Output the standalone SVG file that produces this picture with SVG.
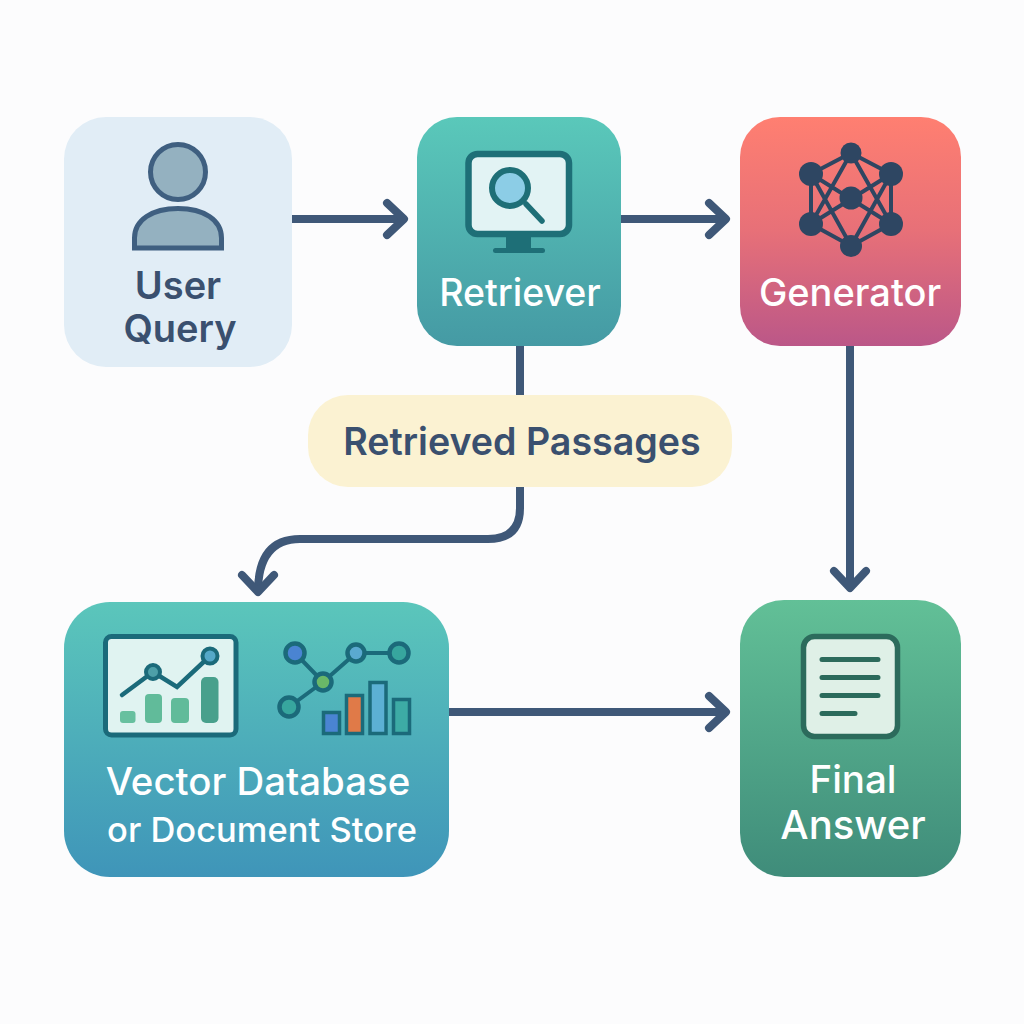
<svg xmlns="http://www.w3.org/2000/svg" width="1024" height="1024" viewBox="0 0 1024 1024">
<defs>
<linearGradient id="gT" x1="0" y1="0" x2="0" y2="1"><stop offset="0" stop-color="#5ac8ba"/><stop offset="1" stop-color="#459aa4"/></linearGradient>
<linearGradient id="gR" x1="0" y1="0" x2="0" y2="1"><stop offset="0" stop-color="#ff7f71"/><stop offset="0.5" stop-color="#e77078"/><stop offset="1" stop-color="#bb5788"/></linearGradient>
<linearGradient id="gV" x1="0" y1="0" x2="0" y2="1"><stop offset="0" stop-color="#5bc6bb"/><stop offset="1" stop-color="#3f95b9"/></linearGradient>
<linearGradient id="gF" x1="0" y1="0" x2="0" y2="1"><stop offset="0" stop-color="#62c097"/><stop offset="1" stop-color="#3f8c7a"/></linearGradient>
<marker id="arrow" markerUnits="userSpaceOnUse" markerWidth="30" markerHeight="44" viewBox="-24 -22 30 44" refX="0" refY="0" orient="auto"><path d="M-17 -16 L0 0 L-17 16" fill="none" stroke="#3f5878" stroke-width="8" stroke-linecap="round" stroke-linejoin="round"/></marker>
</defs>
<style>
.conn{fill:none;stroke:#3f5878;stroke-width:8}
text{font-family:Inter,"Liberation Sans",sans-serif;font-weight:500;text-anchor:middle}
.w{fill:#fff}
.d{fill:#3a506f;font-weight:600}
.net{stroke:#2e4662;stroke-width:4;fill:none}
.nd{fill:#2e4662}
.t{stroke:#1b6a7a;stroke-width:4.5}
.tb{stroke:#1b6a7a;stroke-width:3.5}
</style>
<rect width="1024" height="1024" fill="#fcfcfd"/>
<g id="connectors">
<path class="conn" d="M292 219H404" marker-end="url(#arrow)"/>
<path class="conn" d="M621 219H726" marker-end="url(#arrow)"/>
<path class="conn" d="M520 346V395"/>
<path class="conn" d="M520 487V508Q520 539 488 539H300Q258 539 258 592" marker-end="url(#arrow)"/>
<path class="conn" d="M850 346V588" marker-end="url(#arrow)"/>
<path class="conn" d="M449 712H726" marker-end="url(#arrow)"/>
</g>
<g id="user-query">
<rect x="64" y="117" width="228" height="250" rx="42" fill="#e1edf6"/>
<circle cx="178" cy="172" r="27.500" fill="#94b1c0" stroke="#3f5f80" stroke-width="5"/>
<path d="M134.500 248V238C134.500 220 152 208.500 178 208.500C204 208.500 221.500 220 221.500 238V248Z" fill="#94b1c0" stroke="#3f5f80" stroke-width="5"/>
<text class="d" x="178" y="299" font-size="38">User</text>
<text class="d" x="180" y="342" font-size="38">Query</text>
</g>
<g id="retriever">
<rect x="417" y="117" width="204" height="229" rx="40" fill="url(#gT)"/>
<rect x="468.500" y="154" width="100.500" height="80" rx="9" fill="#e2f3f4" stroke="#1e6f77" stroke-width="6.500"/>
<rect x="506" y="236" width="25" height="13" fill="#1e6f77"/>
<rect x="493" y="248" width="52" height="5" rx="2.500" fill="#1e6f77"/>
<circle cx="510" cy="188" r="18" fill="#8ccde6" stroke="#1e6f77" stroke-width="6"/>
<path d="M526 204L542 221" stroke="#1e6f77" stroke-width="5.500" stroke-linecap="round"/>
<text class="w" x="520" y="306" font-size="37.500">Retriever</text>
</g>
<g id="generator">
<rect x="740" y="117" width="221" height="229" rx="40" fill="url(#gR)"/>
<path class="net" d="M851 153L811 174V224L851 246L891 224V174ZM851 153L811 224M851 153L891 224M811 174L851 246M891 174L851 246M811 174L891 224M891 174L811 224"/>
<g class="nd"><circle cx="851" cy="153" r="10.500"/><circle cx="811" cy="174" r="12"/><circle cx="891" cy="174" r="12"/><circle cx="851" cy="198" r="11.500"/><circle cx="811" cy="224" r="12"/><circle cx="891" cy="224" r="12"/><circle cx="851" cy="246" r="11"/></g>
<text class="w" x="850" y="306" font-size="38">Generator</text>
</g>
<g id="retrieved-passages">
<rect x="308" y="395" width="424" height="92" rx="40" fill="#fbf2d2"/>
<text class="d" x="522" y="455" font-size="37.600">Retrieved Passages</text>
</g>
<g id="vector-database">
<rect x="64" y="602" width="385" height="275" rx="46" fill="url(#gV)"/>
<rect x="105.500" y="636.500" width="130.500" height="98.500" rx="6" fill="#e0f3f1" stroke="#1b6a7a" stroke-width="5"/>
<rect x="120" y="711" width="15.500" height="12" rx="3" fill="#67c09f"/>
<rect x="145" y="694" width="17" height="29" rx="4" fill="#61bb9a"/>
<rect x="171" y="698" width="18" height="25" rx="4" fill="#61bb9a"/>
<rect x="201" y="677" width="17.500" height="46" rx="5" fill="#48a08c"/>
<path d="M122 695L153 672L177 687L210 656" fill="none" stroke="#1b6a7a" stroke-width="4.500" stroke-linecap="round"/>
<circle cx="153" cy="672" r="7" fill="#4d9fa8" stroke="#1b6a7a" stroke-width="4"/>
<circle cx="210" cy="656" r="7.500" fill="#55a8c8" stroke="#1b6a7a" stroke-width="4"/>
<path d="M295 653L323 682L356 653H399M323 682L289 707" fill="none" stroke="#1b6a7a" stroke-width="4"/>
<circle class="t" cx="295" cy="653" r="9.500" fill="#4a84d2"/>
<circle class="t" cx="323" cy="682" r="8.500" fill="#6ab868"/>
<circle class="t" cx="356" cy="653" r="8.500" fill="#5aa9d0"/>
<circle class="t" cx="399" cy="653" r="9.500" fill="#37a69e"/>
<circle class="t" cx="289" cy="707" r="9.500" fill="#37a69e"/>
<rect class="tb" x="323.500" y="712.500" width="16" height="21" fill="#4a84d2"/>
<rect class="tb" x="346.500" y="695.500" width="16" height="38" fill="#e07a48"/>
<rect class="tb" x="370" y="682.500" width="16" height="51" fill="#5cb0d4"/>
<rect class="tb" x="393.500" y="699.500" width="16" height="34" fill="#3dabA5"/>
<text class="w" x="258" y="795" font-size="38.400">Vector Database</text>
<text class="w" x="262" y="842" font-size="34.500">or Document Store</text>
</g>
<g id="final-answer">
<rect x="740" y="600" width="221" height="277" rx="44" fill="url(#gF)"/>
<rect x="803.500" y="636.500" width="94" height="100" rx="11" fill="#dff0e7" stroke="#2c6b5c" stroke-width="5.500"/>
<path d="M822 659.500H878M822 677.500H878M822 695.500H878M822 713.500H855" stroke="#2c6b5c" stroke-width="5" stroke-linecap="round"/>
<text class="w" x="853" y="793" font-size="38.500">Final</text>
<text class="w" x="853" y="839" font-size="40">Answer</text>
</g>
</svg>
